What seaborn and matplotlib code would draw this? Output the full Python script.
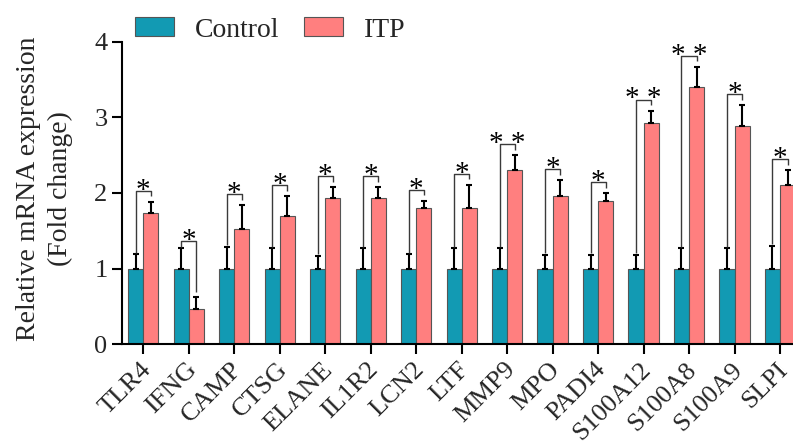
import numpy as np
import pandas as pd
import matplotlib
matplotlib.use('Agg')
import matplotlib.pyplot as plt
import matplotlib.transforms as mtransforms
import seaborn as sns

genes = ['TLR4', 'IFNG', 'CAMP', 'CTSG', 'ELANE', 'IL1R2', 'LCN2', 'LTF',
         'MMP9', 'MPO', 'PADI4', 'S100A12', 'S100A8', 'S100A9', 'SLPI']
control_mean = [1.0] * 15
control_err = [0.19, 0.27, 0.29, 0.27, 0.17, 0.27, 0.19, 0.27,
               0.27, 0.18, 0.18, 0.18, 0.27, 0.27, 0.30]
itp_mean = [1.73, 0.47, 1.53, 1.70, 1.93, 1.93, 1.80, 1.80,
            2.30, 1.96, 1.89, 2.93, 3.40, 2.89, 2.10]
itp_err = [0.155, 0.15, 0.31, 0.26, 0.15, 0.15, 0.10, 0.31,
           0.20, 0.21, 0.11, 0.16, 0.27, 0.27, 0.20]
stars = ['*', '*', '*', '*', '*', '*', '*', '*',
         '* *', '*', '*', '* *', '* *', '*', '*']

teal = '#129AB3'
pink = '#FF7F7F'

df = pd.DataFrame({
    'gene': genes * 2,
    'group': ['Control'] * 15 + ['ITP'] * 15,
    'value': control_mean + itp_mean,
})

sns.set_style('ticks')
plt.rcParams['font.family'] = ['Liberation Serif', 'DejaVu Serif']

fig = plt.figure(figsize=(7.93, 4.47), dpi=100)
ax = fig.add_axes([0.1535, 0.2298, 0.8465, 0.677])

sns.barplot(data=df, x='gene', y='value', hue='group', palette=[teal, pink],
            saturation=1, width=2/3, gap=0, errorbar=None,
            edgecolor='#555555', linewidth=0.8, ax=ax)

# error bars (upper only) on the bars seaborn drew
ctrl_x = [p.get_x() + p.get_width() / 2 for p in ax.containers[0]]
itp_x = [p.get_x() + p.get_width() / 2 for p in ax.containers[1]]
ax.errorbar(ctrl_x, control_mean, yerr=[np.zeros(15), control_err], fmt='none',
            ecolor='black', elinewidth=1.5, capsize=2.3, capthick=1.5, zorder=3)
ax.errorbar(itp_x, itp_mean, yerr=[np.zeros(15), itp_err], fmt='none',
            ecolor='black', elinewidth=1.5, capsize=2.3, capthick=1.5, zorder=3)

# significance brackets
for i in range(15):
    c_top = control_mean[i] + control_err[i]
    t_top = itp_mean[i] + itp_err[i]
    top = max(t_top + 0.145, c_top + 0.1)
    ax.plot([ctrl_x[i], ctrl_x[i], itp_x[i], itp_x[i]],
            [c_top + 0.02, top, top, t_top + 0.07],
            color='#3a3a3a', lw=1.0, solid_capstyle='butt', zorder=3)
    ax.annotate(stars[i], xy=(i, top), xytext=(0, -5), textcoords='offset points',
                ha='center', va='baseline', fontsize=21, color='black')

ax.set_xlim(-0.475, 14.285)
ax.set_ylim(0, 4)
ax.set_yticks([0, 1, 2, 3, 4])
ax.set_xlabel('')
ax.set_ylabel('Relative mRNA expression\n(Fold change)', fontsize=20, linespacing=1.35)
ax.yaxis.set_label_coords(-0.073, 0.515)

sns.despine(ax=ax)
for s in ['left', 'bottom']:
    ax.spines[s].set_linewidth(1.5)
    ax.spines[s].set_color('black')
ax.tick_params(axis='both', length=7.2, width=1.5, color='black', labelsize=19, pad=3)
shift = mtransforms.ScaledTranslation(-2.5 / 72, 0, fig.dpi_scale_trans)
for lab in ax.get_xticklabels():
    lab.set_rotation(45)
    lab.set_ha('right')
    lab.set_va('top')
    lab.set_rotation_mode('anchor')
    lab.set_transform(lab.get_transform() + shift)

handles, labels = ax.get_legend_handles_labels()
ax.get_legend().remove()
fig.legend(handles, labels, loc='center left', bbox_to_anchor=(0.170, 0.933),
           ncol=2, frameon=False, fontsize=20, borderpad=0, borderaxespad=0,
           handlelength=1.4, handleheight=0.68, handletextpad=0.75,
           columnspacing=0.9)

fig.savefig('out.png', dpi=100)
